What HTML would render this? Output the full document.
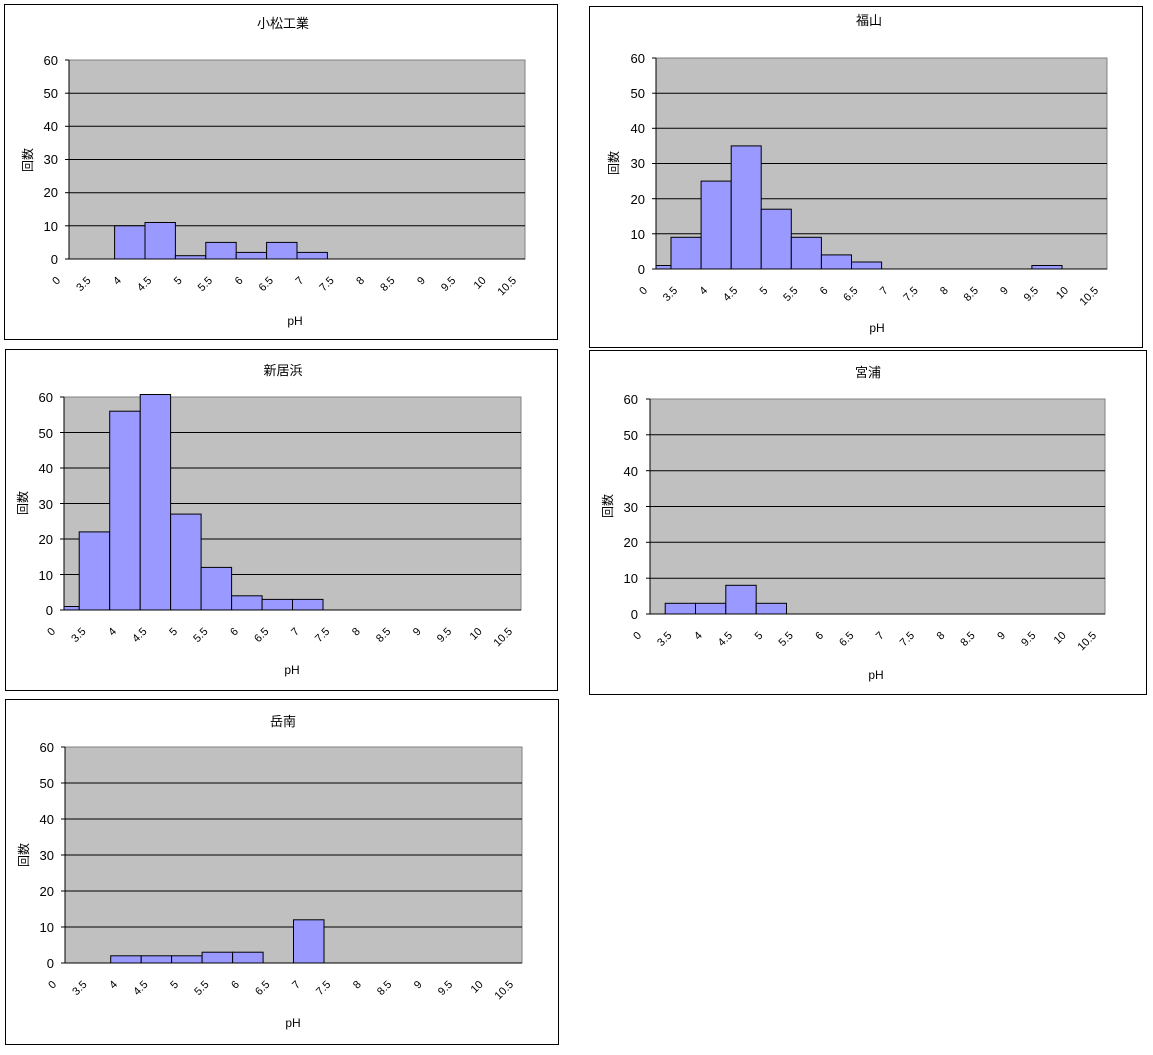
<!DOCTYPE html>
<html><head><meta charset="utf-8"><style>
body{margin:0;background:#fff;}
svg text{font-family:"Liberation Sans","Noto Sans CJK JP",sans-serif;fill:#000;}
.t{font-size:13px;text-anchor:middle;}
.y{font-size:13px;text-anchor:end;}
.x{font-size:11px;text-anchor:end;}
.a{font-size:12px;text-anchor:middle;}
.p{fill:#c0c0c0;stroke:#808080;stroke-width:1;}
.g{stroke:#000;stroke-width:1;}
.b{fill:#9999ff;stroke:#000;stroke-width:1;}
.f{fill:#fff;stroke:#000;stroke-width:1;}
</style></head><body>
<svg width="1153" height="1050" xmlns="http://www.w3.org/2000/svg">
<!-- Chart 1 -->
<rect class="f" x="4.5" y="4.5" width="553" height="335"/>
<text class="t" x="283" y="28">小松工業</text>
<rect class="p" x="69" y="60" width="456" height="199"/>
<g class="g"><line x1="69" x2="525" y1="93.2" y2="93.2"/><line x1="69" x2="525" y1="126.3" y2="126.3"/><line x1="69" x2="525" y1="159.5" y2="159.5"/><line x1="69" x2="525" y1="192.7" y2="192.7"/><line x1="69" x2="525" y1="225.8" y2="225.8"/>
<line x1="69" x2="69" y1="60" y2="259"/><line x1="69" x2="525" y1="259" y2="259"/>
<line x1="65" x2="69" y1="60" y2="60"/><line x1="65" x2="69" y1="93.2" y2="93.2"/><line x1="65" x2="69" y1="126.3" y2="126.3"/><line x1="65" x2="69" y1="159.5" y2="159.5"/><line x1="65" x2="69" y1="192.7" y2="192.7"/><line x1="65" x2="69" y1="225.8" y2="225.8"/><line x1="65" x2="69" y1="259" y2="259"/></g>
<rect class="b" x="114.6" y="225.8" width="30.4" height="33.2"/><rect class="b" x="145" y="222.5" width="30.4" height="36.5"/><rect class="b" x="175.4" y="255.7" width="30.4" height="3.3"/><rect class="b" x="205.8" y="242.4" width="30.4" height="16.6"/><rect class="b" x="236.2" y="252.4" width="30.4" height="6.6"/><rect class="b" x="266.6" y="242.4" width="30.4" height="16.6"/><rect class="b" x="297" y="252.4" width="30.4" height="6.6"/>
<text class="y" x="58" y="65">60</text><text class="y" x="58" y="98">50</text><text class="y" x="58" y="131">40</text><text class="y" x="58" y="164">30</text><text class="y" x="58" y="197">20</text><text class="y" x="58" y="231">10</text><text class="y" x="58" y="264">0</text>
<text class="a" transform="translate(32,160) rotate(-90)">回数</text>
<text class="a" x="295" y="325">pH</text>
<g transform="translate(0,281)"><text class="x" transform="translate(61,0) rotate(-45)">0</text><text class="x" transform="translate(91.4,0) rotate(-45)">3.5</text><text class="x" transform="translate(121.8,0) rotate(-45)">4</text><text class="x" transform="translate(152.2,0) rotate(-45)">4.5</text><text class="x" transform="translate(182.6,0) rotate(-45)">5</text><text class="x" transform="translate(213,0) rotate(-45)">5.5</text><text class="x" transform="translate(243.4,0) rotate(-45)">6</text><text class="x" transform="translate(273.8,0) rotate(-45)">6.5</text><text class="x" transform="translate(304.2,0) rotate(-45)">7</text><text class="x" transform="translate(334.6,0) rotate(-45)">7.5</text><text class="x" transform="translate(365,0) rotate(-45)">8</text><text class="x" transform="translate(395.4,0) rotate(-45)">8.5</text><text class="x" transform="translate(425.8,0) rotate(-45)">9</text><text class="x" transform="translate(456.2,0) rotate(-45)">9.5</text><text class="x" transform="translate(486.6,0) rotate(-45)">10</text><text class="x" transform="translate(517,0) rotate(-45)">10.5</text></g>

<!-- Chart 2 -->
<rect class="f" x="589.5" y="6.5" width="553" height="341"/>
<text class="t" x="869" y="25">福山</text>
<rect class="p" x="656" y="58" width="451" height="211"/>
<g class="g"><line x1="656" x2="1107" y1="93.2" y2="93.2"/><line x1="656" x2="1107" y1="128.3" y2="128.3"/><line x1="656" x2="1107" y1="163.5" y2="163.5"/><line x1="656" x2="1107" y1="198.7" y2="198.7"/><line x1="656" x2="1107" y1="233.8" y2="233.8"/>
<line x1="656" x2="656" y1="58" y2="269"/><line x1="656" x2="1107" y1="269" y2="269"/>
<line x1="652" x2="656" y1="58" y2="58"/><line x1="652" x2="656" y1="93.2" y2="93.2"/><line x1="652" x2="656" y1="128.3" y2="128.3"/><line x1="652" x2="656" y1="163.5" y2="163.5"/><line x1="652" x2="656" y1="198.7" y2="198.7"/><line x1="652" x2="656" y1="233.8" y2="233.8"/><line x1="652" x2="656" y1="269" y2="269"/></g>
<rect class="b" x="656" y="265.5" width="15" height="3.5"/><rect class="b" x="671" y="237.3" width="30.1" height="31.7"/><rect class="b" x="701.1" y="181.1" width="30.1" height="87.9"/><rect class="b" x="731.2" y="145.9" width="30" height="123.1"/><rect class="b" x="761.2" y="209.2" width="30.1" height="59.8"/><rect class="b" x="791.3" y="237.3" width="30.1" height="31.7"/><rect class="b" x="821.4" y="254.9" width="30.1" height="14.1"/><rect class="b" x="851.5" y="262" width="30.1" height="7"/><rect class="b" x="1031.9" y="265.5" width="30.1" height="3.5"/>
<text class="y" x="645" y="63">60</text><text class="y" x="645" y="98">50</text><text class="y" x="645" y="133">40</text><text class="y" x="645" y="168">30</text><text class="y" x="645" y="204">20</text><text class="y" x="645" y="239">10</text><text class="y" x="645" y="274">0</text>
<text class="a" transform="translate(618,163) rotate(-90)">回数</text>
<text class="a" x="877" y="332">pH</text>
<g transform="translate(0,291)"><text class="x" transform="translate(648,0) rotate(-45)">0</text><text class="x" transform="translate(678.1,0) rotate(-45)">3.5</text><text class="x" transform="translate(708.1,0) rotate(-45)">4</text><text class="x" transform="translate(738.2,0) rotate(-45)">4.5</text><text class="x" transform="translate(768.3,0) rotate(-45)">5</text><text class="x" transform="translate(798.4,0) rotate(-45)">5.5</text><text class="x" transform="translate(828.4,0) rotate(-45)">6</text><text class="x" transform="translate(858.5,0) rotate(-45)">6.5</text><text class="x" transform="translate(888.6,0) rotate(-45)">7</text><text class="x" transform="translate(918.6,0) rotate(-45)">7.5</text><text class="x" transform="translate(948.7,0) rotate(-45)">8</text><text class="x" transform="translate(978.8,0) rotate(-45)">8.5</text><text class="x" transform="translate(1008.8,0) rotate(-45)">9</text><text class="x" transform="translate(1038.9,0) rotate(-45)">9.5</text><text class="x" transform="translate(1069,0) rotate(-45)">10</text><text class="x" transform="translate(1099,0) rotate(-45)">10.5</text></g>

<!-- Chart 3 -->
<rect class="f" x="5.5" y="349.5" width="552" height="341"/>
<text class="t" x="283" y="375">新居浜</text>
<rect class="p" x="64" y="397" width="457" height="213"/>
<g class="g"><line x1="64" x2="521" y1="432.5" y2="432.5"/><line x1="64" x2="521" y1="468" y2="468"/><line x1="64" x2="521" y1="503.5" y2="503.5"/><line x1="64" x2="521" y1="539" y2="539"/><line x1="64" x2="521" y1="574.5" y2="574.5"/>
<line x1="64" x2="64" y1="397" y2="610"/><line x1="64" x2="521" y1="610" y2="610"/>
<line x1="60" x2="64" y1="397" y2="397"/><line x1="60" x2="64" y1="432.5" y2="432.5"/><line x1="60" x2="64" y1="468" y2="468"/><line x1="60" x2="64" y1="503.5" y2="503.5"/><line x1="60" x2="64" y1="539" y2="539"/><line x1="60" x2="64" y1="574.5" y2="574.5"/><line x1="60" x2="64" y1="610" y2="610"/></g>
<rect class="b" x="64" y="606.5" width="15.2" height="3.5"/><rect class="b" x="79.2" y="531.9" width="30.5" height="78.1"/><rect class="b" x="109.7" y="411.2" width="30.5" height="198.8"/><rect class="b" x="140.2" y="394.5" width="30.4" height="215.5"/><rect class="b" x="170.6" y="514.1" width="30.5" height="95.9"/><rect class="b" x="201.1" y="567.4" width="30.5" height="42.6"/><rect class="b" x="231.6" y="595.8" width="30.5" height="14.2"/><rect class="b" x="262.1" y="599.4" width="30.4" height="10.6"/><rect class="b" x="292.5" y="599.4" width="30.5" height="10.6"/>
<text class="y" x="53" y="402">60</text><text class="y" x="53" y="438">50</text><text class="y" x="53" y="473">40</text><text class="y" x="53" y="509">30</text><text class="y" x="53" y="544">20</text><text class="y" x="53" y="580">10</text><text class="y" x="53" y="615">0</text>
<text class="a" transform="translate(27,503) rotate(-90)">回数</text>
<text class="a" x="292" y="674">pH</text>
<g transform="translate(0,632)"><text class="x" transform="translate(56,0) rotate(-45)">0</text><text class="x" transform="translate(86.5,0) rotate(-45)">3.5</text><text class="x" transform="translate(116.9,0) rotate(-45)">4</text><text class="x" transform="translate(147.4,0) rotate(-45)">4.5</text><text class="x" transform="translate(177.9,0) rotate(-45)">5</text><text class="x" transform="translate(208.4,0) rotate(-45)">5.5</text><text class="x" transform="translate(238.8,0) rotate(-45)">6</text><text class="x" transform="translate(269.3,0) rotate(-45)">6.5</text><text class="x" transform="translate(299.8,0) rotate(-45)">7</text><text class="x" transform="translate(330.2,0) rotate(-45)">7.5</text><text class="x" transform="translate(360.7,0) rotate(-45)">8</text><text class="x" transform="translate(391.2,0) rotate(-45)">8.5</text><text class="x" transform="translate(421.6,0) rotate(-45)">9</text><text class="x" transform="translate(452.1,0) rotate(-45)">9.5</text><text class="x" transform="translate(482.6,0) rotate(-45)">10</text><text class="x" transform="translate(513,0) rotate(-45)">10.5</text></g>

<!-- Chart 4 -->
<rect class="f" x="589.5" y="350.5" width="557" height="344"/>
<text class="t" x="868" y="377">宮浦</text>
<rect class="p" x="650" y="399" width="455" height="215"/>
<g class="g"><line x1="650" x2="1105" y1="434.8" y2="434.8"/><line x1="650" x2="1105" y1="470.7" y2="470.7"/><line x1="650" x2="1105" y1="506.5" y2="506.5"/><line x1="650" x2="1105" y1="542.3" y2="542.3"/><line x1="650" x2="1105" y1="578.2" y2="578.2"/>
<line x1="650" x2="650" y1="399" y2="614"/><line x1="650" x2="1105" y1="614" y2="614"/>
<line x1="646" x2="650" y1="399" y2="399"/><line x1="646" x2="650" y1="434.8" y2="434.8"/><line x1="646" x2="650" y1="470.7" y2="470.7"/><line x1="646" x2="650" y1="506.5" y2="506.5"/><line x1="646" x2="650" y1="542.3" y2="542.3"/><line x1="646" x2="650" y1="578.2" y2="578.2"/><line x1="646" x2="650" y1="614" y2="614"/></g>
<rect class="b" x="665.2" y="603.3" width="30.3" height="10.7"/><rect class="b" x="695.5" y="603.3" width="30.3" height="10.7"/><rect class="b" x="725.8" y="585.3" width="30.4" height="28.7"/><rect class="b" x="756.2" y="603.3" width="30.3" height="10.7"/>
<text class="y" x="638" y="404">60</text><text class="y" x="638" y="440">50</text><text class="y" x="638" y="476">40</text><text class="y" x="638" y="512">30</text><text class="y" x="638" y="547">20</text><text class="y" x="638" y="583">10</text><text class="y" x="638" y="619">0</text>
<text class="a" transform="translate(612,506) rotate(-90)">回数</text>
<text class="a" x="876" y="679">pH</text>
<g transform="translate(0,636)"><text class="x" transform="translate(642,0) rotate(-45)">0</text><text class="x" transform="translate(672.3,0) rotate(-45)">3.5</text><text class="x" transform="translate(702.7,0) rotate(-45)">4</text><text class="x" transform="translate(733,0) rotate(-45)">4.5</text><text class="x" transform="translate(763.3,0) rotate(-45)">5</text><text class="x" transform="translate(793.7,0) rotate(-45)">5.5</text><text class="x" transform="translate(824,0) rotate(-45)">6</text><text class="x" transform="translate(854.3,0) rotate(-45)">6.5</text><text class="x" transform="translate(884.6,0) rotate(-45)">7</text><text class="x" transform="translate(915,0) rotate(-45)">7.5</text><text class="x" transform="translate(945.3,0) rotate(-45)">8</text><text class="x" transform="translate(975.6,0) rotate(-45)">8.5</text><text class="x" transform="translate(1006,0) rotate(-45)">9</text><text class="x" transform="translate(1036.3,0) rotate(-45)">9.5</text><text class="x" transform="translate(1066.6,0) rotate(-45)">10</text><text class="x" transform="translate(1097,0) rotate(-45)">10.5</text></g>

<!-- Chart 5 -->
<rect class="f" x="5.5" y="699.5" width="553" height="345"/>
<text class="t" x="283" y="726">岳南</text>
<rect class="p" x="65" y="747" width="457" height="216"/>
<g class="g"><line x1="65" x2="522" y1="783" y2="783"/><line x1="65" x2="522" y1="819" y2="819"/><line x1="65" x2="522" y1="855" y2="855"/><line x1="65" x2="522" y1="891" y2="891"/><line x1="65" x2="522" y1="927" y2="927"/>
<line x1="65" x2="65" y1="747" y2="963"/><line x1="65" x2="522" y1="963" y2="963"/>
<line x1="61" x2="65" y1="747" y2="747"/><line x1="61" x2="65" y1="783" y2="783"/><line x1="61" x2="65" y1="819" y2="819"/><line x1="61" x2="65" y1="855" y2="855"/><line x1="61" x2="65" y1="891" y2="891"/><line x1="61" x2="65" y1="927" y2="927"/><line x1="61" x2="65" y1="963" y2="963"/></g>
<rect class="b" x="110.7" y="955.8" width="30.5" height="7.2"/><rect class="b" x="141.2" y="955.8" width="30.4" height="7.2"/><rect class="b" x="171.6" y="955.8" width="30.5" height="7.2"/><rect class="b" x="202.1" y="952.2" width="30.5" height="10.8"/><rect class="b" x="232.6" y="952.2" width="30.5" height="10.8"/><rect class="b" x="293.5" y="919.8" width="30.5" height="43.2"/>
<text class="y" x="54" y="752">60</text><text class="y" x="54" y="788">50</text><text class="y" x="54" y="824">40</text><text class="y" x="54" y="860">30</text><text class="y" x="54" y="896">20</text><text class="y" x="54" y="932">10</text><text class="y" x="54" y="968">0</text>
<text class="a" transform="translate(28,855) rotate(-90)">回数</text>
<text class="a" x="293" y="1027">pH</text>
<g transform="translate(0,985)"><text class="x" transform="translate(57,0) rotate(-45)">0</text><text class="x" transform="translate(87.5,0) rotate(-45)">3.5</text><text class="x" transform="translate(117.9,0) rotate(-45)">4</text><text class="x" transform="translate(148.4,0) rotate(-45)">4.5</text><text class="x" transform="translate(178.9,0) rotate(-45)">5</text><text class="x" transform="translate(209.4,0) rotate(-45)">5.5</text><text class="x" transform="translate(239.8,0) rotate(-45)">6</text><text class="x" transform="translate(270.3,0) rotate(-45)">6.5</text><text class="x" transform="translate(300.8,0) rotate(-45)">7</text><text class="x" transform="translate(331.2,0) rotate(-45)">7.5</text><text class="x" transform="translate(361.7,0) rotate(-45)">8</text><text class="x" transform="translate(392.2,0) rotate(-45)">8.5</text><text class="x" transform="translate(422.6,0) rotate(-45)">9</text><text class="x" transform="translate(453.1,0) rotate(-45)">9.5</text><text class="x" transform="translate(483.6,0) rotate(-45)">10</text><text class="x" transform="translate(514,0) rotate(-45)">10.5</text></g>
</svg>
</body></html>
